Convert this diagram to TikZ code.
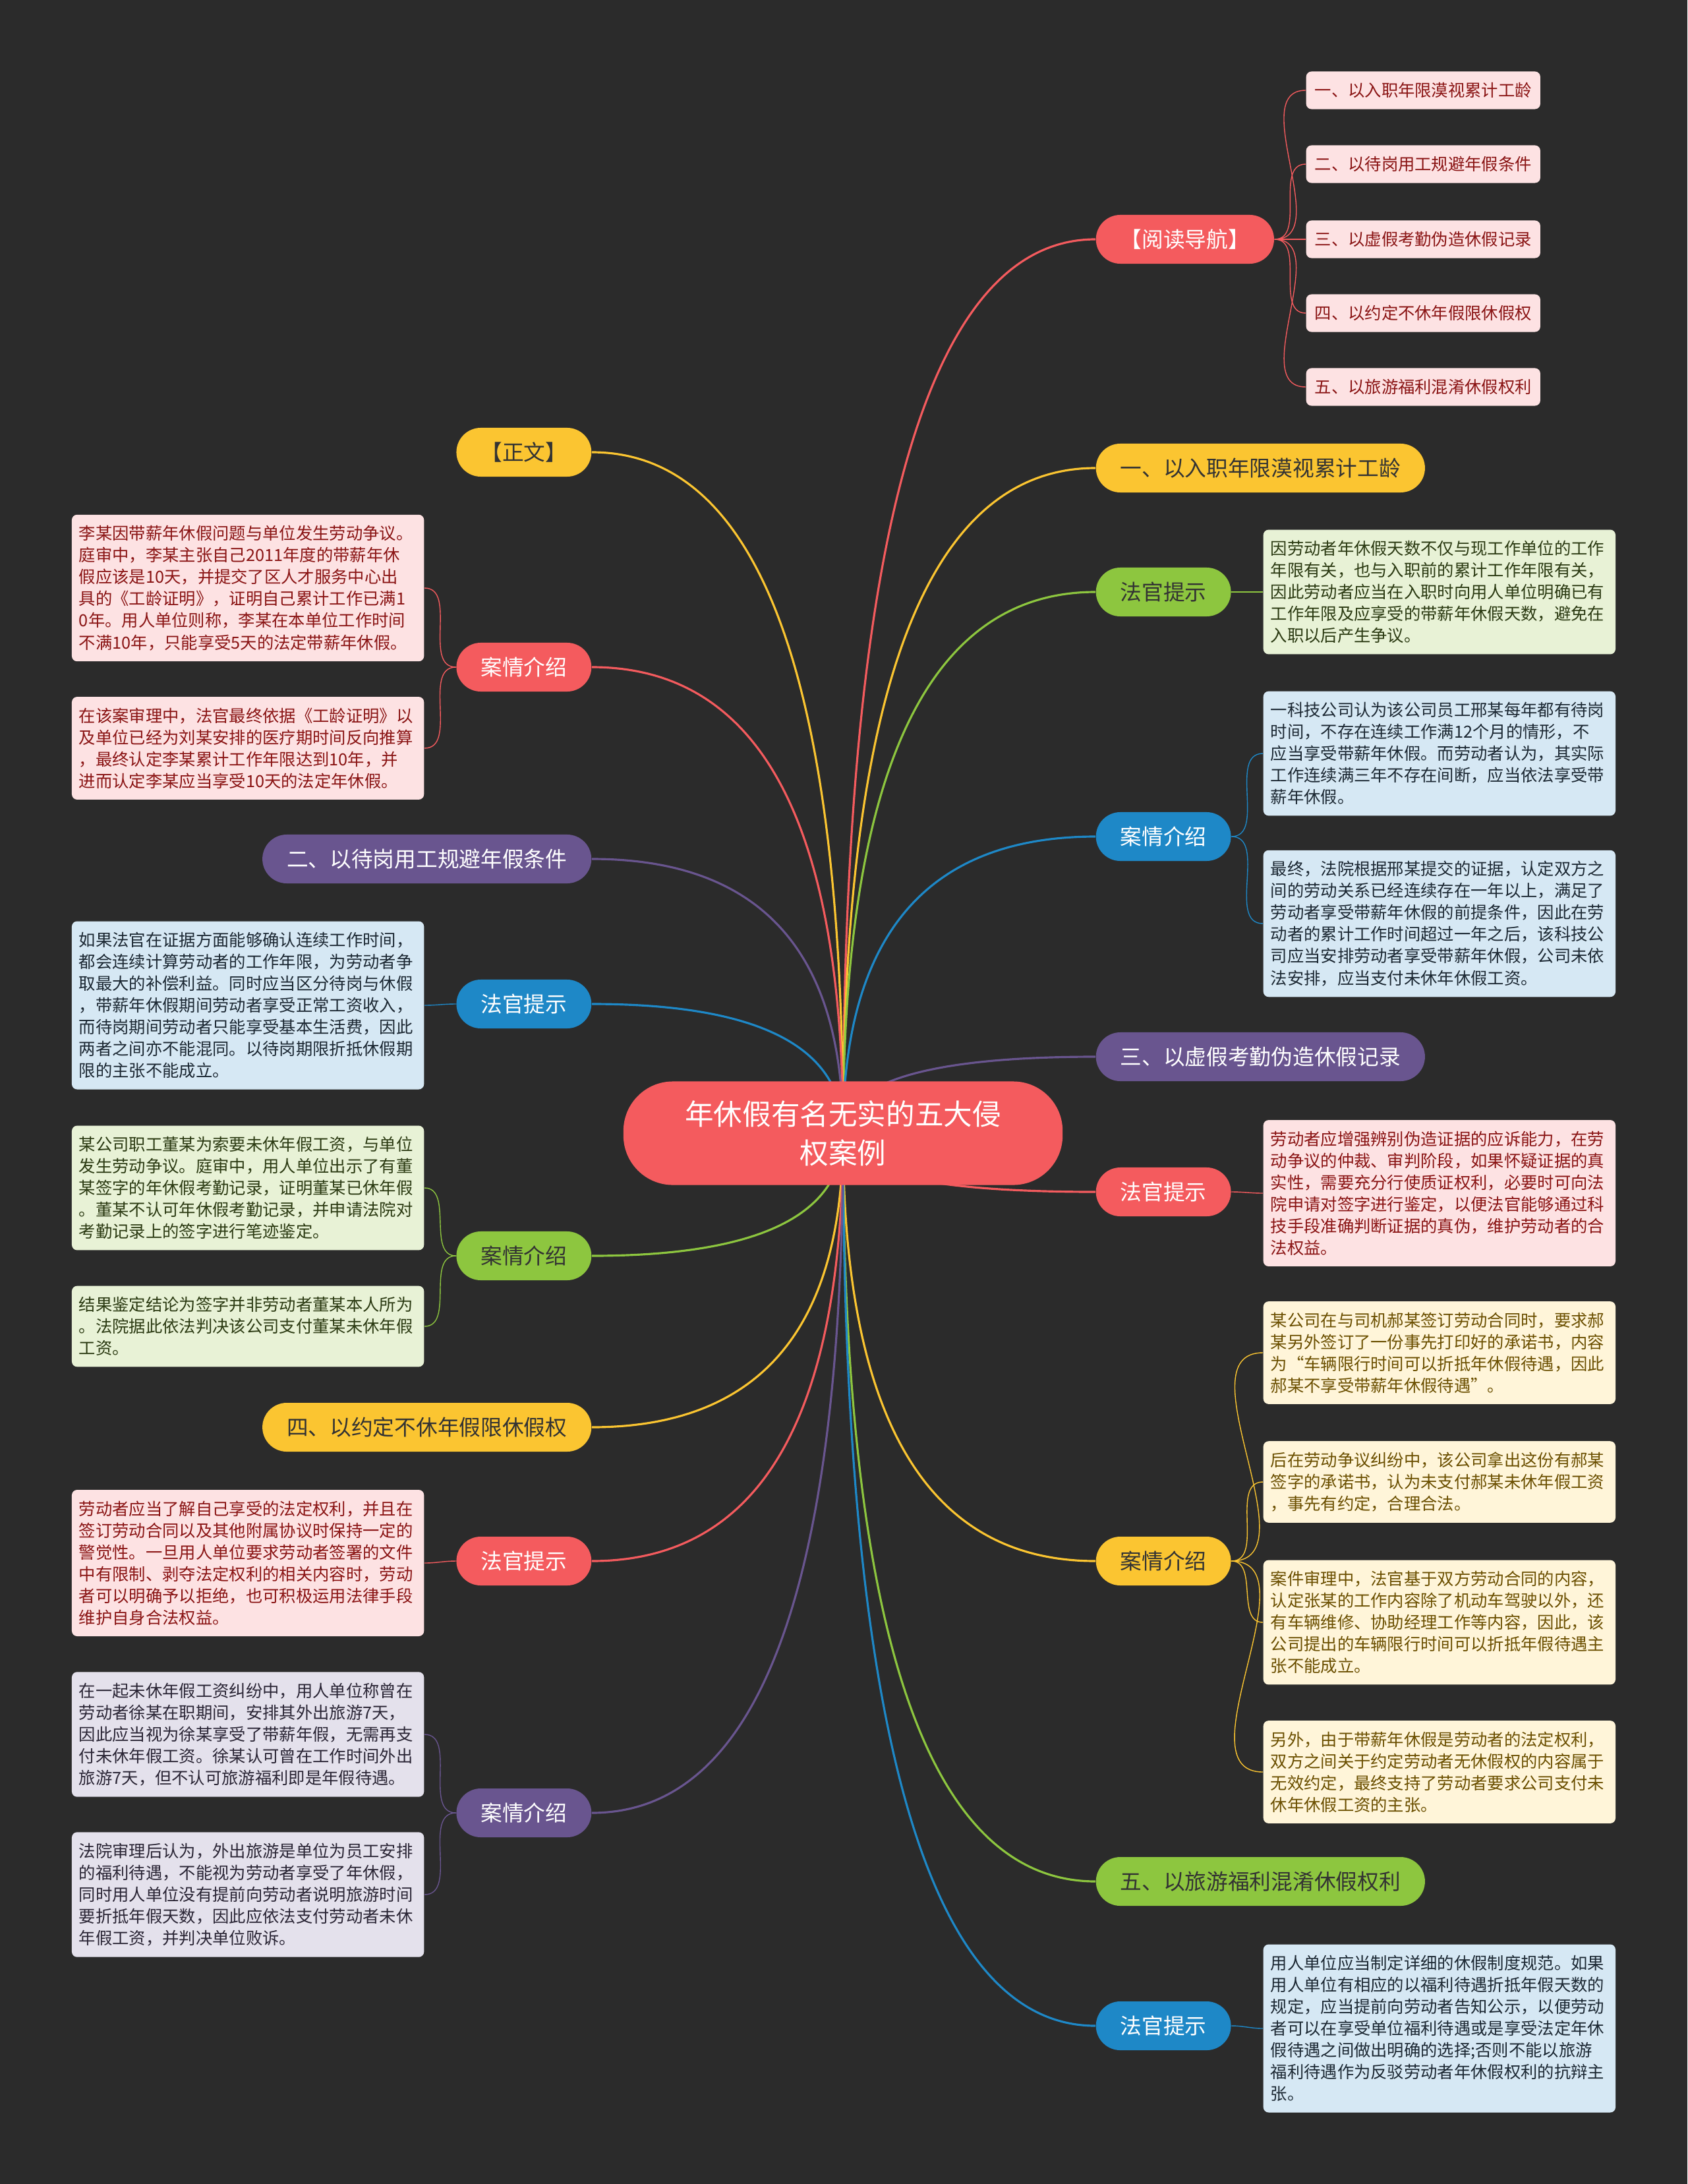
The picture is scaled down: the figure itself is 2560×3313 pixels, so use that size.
\documentclass[tikz,border=0pt]{standalone}
\usepackage{fontspec}
\setmainfont{Noto Sans CJK SC}
\usepackage{tikz}
\usetikzlibrary{calc}

\definecolor{bgdark}{HTML}{2B2B2B}
\definecolor{cRed}{HTML}{F45B5E}
\definecolor{cYel}{HTML}{FBC531}
\definecolor{cGrn}{HTML}{8DC63F}
\definecolor{cBlu}{HTML}{1E88C7}
\definecolor{cPur}{HTML}{69558F}
\definecolor{lRed}{HTML}{FDE2E3}
\definecolor{lYel}{HTML}{FFF5D9}
\definecolor{lGrn}{HTML}{E8F2D6}
\definecolor{lBlu}{HTML}{D6E8F4}
\definecolor{lPur}{HTML}{E4E1EC}
\definecolor{dRed}{HTML}{8A1414}
\definecolor{dYel}{HTML}{6B4F00}
\definecolor{dGrn}{HTML}{2B3A12}
\definecolor{dBlu}{HTML}{1C2833}
\definecolor{dPur}{HTML}{2A2535}

\newcommand{\rootfont}{\fontsize{12.4}{16.8}\selectfont}
\newcommand{\pillfont}{\fontsize{9.3}{11}\selectfont}
\newcommand{\leaffont}{\fontsize{7.2}{9.4}\selectfont}

\pgfdeclarelayer{back}
\pgfdeclarelayer{links}
\pgfsetlayers{back,links,main}

\begin{document}
\begin{tikzpicture}[
    x=0.01cm, y=-0.01cm,
    pill/.style={rounded corners=0.37cm, minimum height=0.74cm, inner xsep=0.37cm, inner ysep=0pt, font=\pillfont},
    pillred/.style={pill, fill=cRed, text=white},
    pillyel/.style={pill, fill=cYel, text=black!80},
    pillgrn/.style={pill, fill=cGrn, text=black!80},
    pillblu/.style={pill, fill=cBlu, text=white},
    pillpur/.style={pill, fill=cPur, text=white},
    leaf/.style={rounded corners=0.08cm, text width=5.12cm, align=left, inner xsep=0.11cm, inner ysep=0.165cm, font=\leaffont},
    leafred/.style={leaf, fill=lRed, text=dRed},
    leafyel/.style={leaf, fill=lYel, text=dYel},
    leafgrn/.style={leaf, fill=lGrn, text=dGrn},
    leafblu/.style={leaf, fill=lBlu, text=dBlu},
    leafpur/.style={leaf, fill=lPur, text=dPur},
    navleaf/.style={rounded corners=0.08cm, minimum height=0.57cm, inner xsep=0.13cm, inner ysep=0pt, font=\leaffont, fill=lRed, text=dRed},
    branch/.style={line width=0.9pt, to path={.. controls ($(\tikztostart)!0.667!(\tikztostart|-\tikztotarget)$) and ($(\tikztotarget)!0.667!(\tikztostart|-\tikztotarget)$) .. (\tikztotarget)}},
    twigR/.style={line width=0.8pt, out=0, in=180},
    twigL/.style={line width=0.8pt, out=180, in=0}
]

% fons
\begin{pgfonlayer}{back}
\fill[bgdark] (0,0) rectangle (2560,3313);
\end{pgfonlayer}
\useasboundingbox (0,0) rectangle (2560,3313);

% ---------------- CENTRE ----------------

\node[
    fill=cRed,
    rounded corners=0.75cm,
    minimum width=6.66cm,
    minimum height=1.57cm,
    align=center,
    font=\rootfont,
    text=white
] (root) at (1279,1719) {年休假有名无实的五大侵\\权案例};

% ---------------- DRETA ----------------

% Aiguilles de navegació
\node[pillred, anchor=west] (nav) at (1662,363) {【阅读导航】};
\node[navleaf, anchor=west] (nav1) at (1981,137) {一、以入职年限漠视累计工龄};
\node[navleaf, anchor=west] (nav2) at (1981,249) {二、以待岗用工规避年假条件};
\node[navleaf, anchor=west] (nav3) at (1981,363) {三、以虚假考勤伪造休假记录};
\node[navleaf, anchor=west] (nav4) at (1981,475) {四、以约定不休年假限休假权};
\node[navleaf, anchor=west] (nav5) at (1981,587) {五、以旅游福利混淆休假权利};

% 一
\node[pillyel, anchor=west] (sec1) at (1662,710) {一、以入职年限漠视累计工龄};

\node[pillgrn, anchor=west] (tipA) at (1662,898) {法官提示};
\node[leafgrn, anchor=west] (tipAt) at (1916,898) {因劳动者年休假天数不仅与现工作单位的工作\\年限有关，也与入职前的累计工作年限有关，\\因此劳动者应当在入职时向用人单位明确已有\\工作年限及应享受的带薪年休假天数，避免在\\入职以后产生争议。};

% 二 (案例)
\node[pillblu, anchor=west] (caseB) at (1662,1269) {案情介绍};
\node[leafblu, anchor=west] (caseBa) at (1916,1143) {一科技公司认为该公司员工邢某每年都有待岗\\时间，不存在连续工作满12个月的情形，不\\应当享受带薪年休假。而劳动者认为，其实际\\工作连续满三年不存在间断，应当依法享受带\\薪年休假。};
\node[leafblu, anchor=west] (caseBb) at (1916,1401) {最终，法院根据邢某提交的证据，认定双方之\\间的劳动关系已经连续存在一年以上，满足了\\劳动者享受带薪年休假的前提条件，因此在劳\\动者的累计工作时间超过一年之后，该科技公\\司应当安排劳动者享受带薪年休假，公司未依\\法安排，应当支付未休年休假工资。};

% 三
\node[pillpur, anchor=west] (sec3) at (1662,1603) {三、以虚假考勤伪造休假记录};

\node[pillred, anchor=west] (tipC) at (1662,1808) {法官提示};
\node[leafred, anchor=west] (tipCt) at (1916,1810) {劳动者应增强辨别伪造证据的应诉能力，在劳\\动争议的仲裁、审判阶段，如果怀疑证据的真\\实性，需要充分行使质证权利，必要时可向法\\院申请对签字进行鉴定，以便法官能够通过科\\技手段准确判断证据的真伪，维护劳动者的合\\法权益。};

% 四 (案例)
\node[pillyel, anchor=west] (caseD) at (1662,2368) {案情介绍};
\node[leafyel, anchor=west] (caseDa) at (1916,2052) {某公司在与司机郝某签订劳动合同时，要求郝\\某另外签订了一份事先打印好的承诺书，内容\\为“车辆限行时间可以折抵年休假待遇，因此\\郝某不享受带薪年休假待遇”。};
\node[leafyel, anchor=west] (caseDb) at (1916,2248) {后在劳动争议纠纷中，该公司拿出这份有郝某\\签字的承诺书，认为未支付郝某未休年假工资\\，事先有约定，合理合法。};
\node[leafyel, anchor=west] (caseDc) at (1916,2461) {案件审理中，法官基于双方劳动合同的内容，\\认定张某的工作内容除了机动车驾驶以外，还\\有车辆维修、协助经理工作等内容，因此，该\\公司提出的车辆限行时间可以折抵年假待遇主\\张不能成立。};
\node[leafyel, anchor=west] (caseDd) at (1916,2688) {另外，由于带薪年休假是劳动者的法定权利，\\双方之间关于约定劳动者无休假权的内容属于\\无效约定，最终支持了劳动者要求公司支付未\\休年休假工资的主张。};

% 五
\node[pillgrn, anchor=west] (sec5) at (1662,2854) {五、以旅游福利混淆休假权利};

\node[pillblu, anchor=west] (tipE) at (1662,3073) {法官提示};
\node[leafblu, anchor=west] (tipEt) at (1916,3077) {用人单位应当制定详细的休假制度规范。如果\\用人单位有相应的以福利待遇折抵年假天数的\\规定，应当提前向劳动者告知公示，以便劳动\\者可以在享受单位福利待遇或是享受法定年休\\假待遇之间做出明确的选择;否则不能以旅游\\福利待遇作为反驳劳动者年休假权利的抗辩主\\张。};

% ---------------- ESQUERRA ----------------

\node[pillyel, anchor=east] (body) at (898,686) {【正文】};

% 一 (案例)
\node[pillred, anchor=east] (caseA) at (898,1012) {案情介绍};
\node[leafred, anchor=east] (caseAa) at (644,892) {李某因带薪年休假问题与单位发生劳动争议。\\庭审中，李某主张自己2011年度的带薪年休\\假应该是10天，并提交了区人才服务中心出\\具的《工龄证明》，证明自己累计工作已满1\\0年。用人单位则称，李某在本单位工作时间\\不满10年，只能享受5天的法定带薪年休假。};
\node[leafred, anchor=east] (caseAb) at (644,1135) {在该案审理中，法官最终依据《工龄证明》以\\及单位已经为刘某安排的医疗期时间反向推算\\，最终认定李某累计工作年限达到10年，并\\进而认定李某应当享受10天的法定年休假。};

% 二
\node[pillpur, anchor=east] (sec2) at (898,1303) {二、以待岗用工规避年假条件};

\node[pillblu, anchor=east] (tipB) at (898,1523) {法官提示};
\node[leafblu, anchor=east] (tipBt) at (644,1525) {如果法官在证据方面能够确认连续工作时间，\\都会连续计算劳动者的工作年限，为劳动者争\\取最大的补偿利益。同时应当区分待岗与休假\\，带薪年休假期间劳动者享受正常工资收入，\\而待岗期间劳动者只能享受基本生活费，因此\\两者之间亦不能混同。以待岗期限折抵休假期\\限的主张不能成立。};

% 三 (案例)
\node[pillgrn, anchor=east] (caseC) at (898,1905) {案情介绍};
\node[leafgrn, anchor=east] (caseCa) at (644,1802) {某公司职工董某为索要未休年假工资，与单位\\发生劳动争议。庭审中，用人单位出示了有董\\某签字的年休假考勤记录，证明董某已休年假\\。董某不认可年休假考勤记录，并申请法院对\\考勤记录上的签字进行笔迹鉴定。};
\node[leafgrn, anchor=east] (caseCb) at (644,2012) {结果鉴定结论为签字并非劳动者董某本人所为\\。法院据此依法判决该公司支付董某未休年假\\工资。};

% 四
\node[pillyel, anchor=east] (sec4) at (898,2165) {四、以约定不休年假限休假权};

\node[pillred, anchor=east] (tipD) at (898,2368) {法官提示};
\node[leafred, anchor=east] (tipDt) at (644,2371) {劳动者应当了解自己享受的法定权利，并且在\\签订劳动合同以及其他附属协议时保持一定的\\警觉性。一旦用人单位要求劳动者签署的文件\\中有限制、剥夺法定权利的相关内容时，劳动\\者可以明确予以拒绝，也可积极运用法律手段\\维护自身合法权益。};

% 五 (案例)
\node[pillpur, anchor=east] (caseE) at (898,2750) {案情介绍};
\node[leafpur, anchor=east] (caseEa) at (644,2631) {在一起未休年假工资纠纷中，用人单位称曾在\\劳动者徐某在职期间，安排其外出旅游7天，\\因此应当视为徐某享受了带薪年假，无需再支\\付未休年假工资。徐某认可曾在工作时间外出\\旅游7天，但不认可旅游福利即是年假待遇。};
\node[leafpur, anchor=east] (caseEb) at (644,2874) {法院审理后认为，外出旅游是单位为员工安排\\的福利待遇，不能视为劳动者享受了年休假，\\同时用人单位没有提前向劳动者说明旅游时间\\要折抵年假天数，因此应依法支付劳动者未休\\年假工资，并判决单位败诉。};

% ---------------- CONNEXIONS ----------------

\begin{pgfonlayer}{links}
% branques
\draw[branch, cRed] (root.center) to (nav.west);
\draw[branch, cYel] (root.center) to (sec1.west);
\draw[branch, cGrn] (root.center) to (tipA.west);
\draw[branch, cBlu] (root.center) to (caseB.west);
\draw[branch, cPur] (root.center) to (sec3.west);
\draw[branch, cRed] (root.center) to (tipC.west);
\draw[branch, cYel] (root.center) to (caseD.west);
\draw[branch, cGrn] (root.center) to (sec5.west);
\draw[branch, cBlu] (root.center) to (tipE.west);
\draw[branch, cYel] (root.center) to (body.east);
\draw[branch, cRed] (root.center) to (caseA.east);
\draw[branch, cPur] (root.center) to (sec2.east);
\draw[branch, cBlu] (root.center) to (tipB.east);
\draw[branch, cGrn] (root.center) to (caseC.east);
\draw[branch, cYel] (root.center) to (sec4.east);
\draw[branch, cRed] (root.center) to (tipD.east);
\draw[branch, cPur] (root.center) to (caseE.east);

% fulles
\draw[cRed] (nav.east) to[twigR] (nav1.west);
\draw[cRed] (nav.east) to[twigR] (nav2.west);
\draw[cRed] (nav.east) to[twigR] (nav3.west);
\draw[cRed] (nav.east) to[twigR] (nav4.west);
\draw[cRed] (nav.east) to[twigR] (nav5.west);
\draw[cGrn] (tipA.east) to[twigR] (tipAt.west);
\draw[cBlu] (caseB.east) to[twigR] (caseBa.west);
\draw[cBlu] (caseB.east) to[twigR] (caseBb.west);
\draw[cRed] (tipC.east) to[twigR] (tipCt.west);
\draw[cYel] (caseD.east) to[twigR] (caseDa.west);
\draw[cYel] (caseD.east) to[twigR] (caseDb.west);
\draw[cYel] (caseD.east) to[twigR] (caseDc.west);
\draw[cYel] (caseD.east) to[twigR] (caseDd.west);
\draw[cBlu] (tipE.east) to[twigR] (tipEt.west);
\draw[cRed] (caseA.west) to[twigL] (caseAa.east);
\draw[cRed] (caseA.west) to[twigL] (caseAb.east);
\draw[cBlu] (tipB.west) to[twigL] (tipBt.east);
\draw[cGrn] (caseC.west) to[twigL] (caseCa.east);
\draw[cGrn] (caseC.west) to[twigL] (caseCb.east);
\draw[cRed] (tipD.west) to[twigL] (tipDt.east);
\draw[cPur] (caseE.west) to[twigL] (caseEa.east);
\draw[cPur] (caseE.west) to[twigL] (caseEb.east);
\end{pgfonlayer}

\end{tikzpicture}
\end{document}
